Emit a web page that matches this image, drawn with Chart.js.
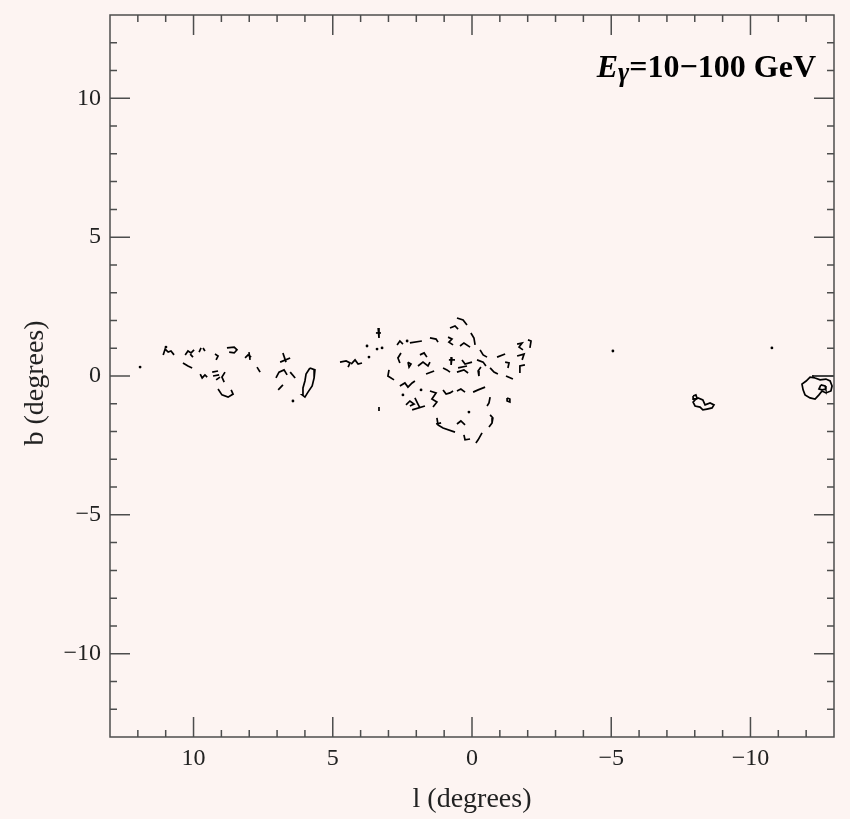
<!DOCTYPE html>
<html>
<head>
<meta charset="utf-8">
<script src="https://cdn.jsdelivr.net/npm/chart.js@4/dist/chart.umd.min.js"></script>
<style>
  html, body { margin: 0; padding: 0; background: #fdf4f2; }
  #wrap { width: 850px; height: 819px; }
</style>
</head>
<body>
<div id="wrap"><canvas id="map"></canvas></div>
<script>
// axis ranges and tick labels (degrees)
let lRange = [-13, 13];
let bRange = [-13, 13];
let lLabels = [10, 5, 0, -5, -10];
let bLabels = [10, 5, 0, -5, -10];

// contour fragments, each one a polyline of [l, b] pairs
let farLeftContours = [
  [[11.09,0.76],[11.02,0.97],[10.91,0.86],[10.81,0.90],[10.70,0.76]],
  [[10.30,0.76],[10.20,0.90],[10.09,0.83],[9.98,0.94]],
  [[10.12,0.79],[10.02,0.68]],
  [[9.80,0.86],[9.73,1.01]],
  [[9.66,1.01],[9.59,0.90]],
  [[9.23,0.79],[9.12,0.72],[9.19,0.58]],
  [[8.80,1.01],[8.54,1.04],[8.44,0.94],[8.54,0.83],[8.72,0.86]],
  [[8.15,0.65],[8.04,0.76],[7.93,0.68]],
  [[8.01,0.86],[7.97,0.58]],
  [[7.72,0.32],[7.61,0.14]],
  [[10.38,0.47],[10.20,0.36],[10.05,0.29]],
  [[9.76,0.07],[9.69,-0.07],[9.59,0.04],[9.51,-0.04]],
  [[9.33,0.14],[9.12,0.18]],
  [[9.30,0.00],[9.08,0.04]],
  [[9.19,-0.14],[9.05,-0.04]],
  [[8.87,0.14],[8.98,-0.04],[8.90,-0.22]],
  [[9.12,-0.47],[8.98,-0.68],[8.76,-0.76],[8.58,-0.65],[8.65,-0.50]]
];

let midLeftContours = [
  [[6.79,0.83],[6.68,0.50]],
  [[6.89,0.50],[6.53,0.65]],
  [[7.04,-0.07],[6.93,0.14],[6.75,0.22],[6.64,0.04]],
  [[6.53,0.14],[6.35,-0.07]],
  [[6.79,-0.32],[6.96,-0.50]],
  [[5.82,0.29],[5.64,0.22],[5.67,-0.07],[5.74,-0.36],[5.89,-0.58],[6.00,-0.76],[6.10,-0.68],[6.07,-0.43],[6.00,-0.18],[5.96,0.07],[5.82,0.29]]
];

let coreContours = [
  [[4.74,0.50],[4.52,0.54],[4.38,0.47],[4.45,0.32]],
  [[4.34,0.43],[4.20,0.58],[4.09,0.43],[3.95,0.47]],
  [[3.37,1.73],[3.34,1.37]],
  [[3.45,1.55],[3.27,1.55]],
  [[2.69,1.12],[2.59,1.26],[2.48,1.15]],
  [[2.23,1.19],[1.80,1.26]],
  [[1.51,1.37],[1.29,1.33],[1.22,1.22]],
  [[2.55,0.83],[2.66,0.65],[2.59,0.47]],
  [[2.30,0.50],[2.19,0.43],[2.26,0.32],[2.30,0.50]],
  [[1.87,0.76],[1.72,0.83],[1.62,0.68]],
  [[1.94,0.36],[1.76,0.50],[1.58,0.36],[1.51,0.50]],
  [[2.98,0.22],[3.02,0.00],[2.80,-0.14]],
  [[1.65,0.07],[1.36,0.18]],
  [[2.59,-0.36],[2.41,-0.25],[2.30,-0.40],[2.15,-0.25],[2.05,-0.18]],
  [[2.37,-1.04],[2.23,-0.90],[2.08,-1.01],[2.23,-1.08]],
  [[2.05,-0.79],[1.94,-1.01],[1.87,-1.15]],
  [[2.15,-1.22],[1.69,-1.08]],
  [[1.51,-0.54],[1.29,-0.61],[1.44,-0.83],[1.26,-0.94],[1.40,-1.12]],
  [[3.34,-1.12],[3.34,-1.26]],
  [[0.54,2.09],[0.32,2.02],[0.18,1.84]],
  [[0.79,1.73],[0.61,1.80],[0.50,1.69]],
  [[0.86,1.40],[0.72,1.33],[0.83,1.22],[0.68,1.12]],
  [[0.04,1.55],[-0.07,1.37],[-0.11,1.12]],
  [[0.43,1.08],[0.29,1.19],[0.07,1.04]],
  [[-2.01,1.30],[-2.12,1.26],[-2.08,1.01]],
  [[-1.62,1.15],[-1.80,1.19],[-1.69,1.04],[-1.83,0.94]],
  [[-1.62,0.72],[-1.87,0.79],[-1.80,0.58]],
  [[-1.69,0.14],[-1.72,0.36],[-1.90,0.40]],
  [[0.72,0.68],[0.75,0.40]],
  [[0.83,0.58],[0.61,0.58]],
  [[0.36,0.58],[0.25,0.43],[0.00,0.50]],
  [[-0.29,0.94],[-0.40,0.76],[-0.54,0.68]],
  [[-0.18,0.58],[-0.40,0.50],[-0.50,0.36]],
  [[-0.90,0.68],[-1.19,0.79]],
  [[-1.19,0.50],[-1.33,0.47],[-1.29,0.29]],
  [[1.04,0.29],[0.90,0.22],[0.79,0.14]],
  [[0.50,0.29],[0.18,0.36]],
  [[0.54,0.14],[0.29,0.22],[0.14,0.11]],
  [[-0.32,0.32],[-0.22,0.18],[-0.25,0.00]],
  [[-0.65,0.29],[-0.79,0.14],[-0.93,0.07]],
  [[-1.22,0.00],[-1.47,-0.11]],
  [[1.04,-0.50],[0.93,-0.65],[0.79,-0.61],[0.68,-0.54]],
  [[0.54,-0.54],[0.40,-0.47],[0.25,-0.58]],
  [[-0.04,-0.58],[-0.22,-0.50],[-0.47,-0.40]],
  [[-0.65,-0.76],[-0.61,-0.97],[-0.54,-1.08]],
  [[-1.26,-0.79],[-1.36,-0.83],[-1.36,-0.94],[-1.26,-0.90],[-1.26,-0.79]],
  [[-0.65,-1.40],[-0.75,-1.51],[-0.72,-1.69],[-0.61,-1.84]],
  [[1.26,-1.51],[1.22,-1.76],[1.04,-1.87],[0.61,-2.02]],
  [[1.29,-1.73],[1.11,-1.69]],
  [[0.54,-1.73],[0.40,-1.62],[0.25,-1.76]],
  [[0.29,-2.12],[0.25,-2.30],[0.07,-2.27]],
  [[-0.36,-2.05],[-0.22,-2.30],[-0.14,-2.41]]
];

let eastContours = [
  [[-8.01,-0.86],[-8.12,-0.79],[-8.29,-0.86],[-8.37,-1.04],[-8.55,-0.97],[-8.69,-1.04],[-8.62,-1.15],[-8.44,-1.19],[-8.29,-1.22],[-8.19,-1.12],[-8.01,-1.08],[-7.94,-0.94],[-8.01,-0.86]],
  [[-7.94,-0.72],[-8.04,-0.68],[-8.08,-0.79],[-7.97,-0.83],[-7.94,-0.72]],
  [[-12.32,-0.07],[-12.50,-0.14],[-12.71,-0.11],[-12.86,-0.18],[-12.93,-0.36],[-12.89,-0.54],[-12.71,-0.61],[-12.57,-0.54],[-12.46,-0.68],[-12.32,-0.83],[-12.14,-0.79],[-11.96,-0.68],[-11.89,-0.50],[-11.85,-0.29],[-12.00,-0.18],[-12.14,-0.04],[-12.32,-0.07]],
  [[-12.53,-0.32],[-12.68,-0.36],[-12.71,-0.47],[-12.57,-0.50],[-12.46,-0.47],[-12.53,-0.32]],
  [[-12.21,0.00],[-13.00,0.00]]
];

// single-pixel contours
let isolatedPoints = [
  [11.92,0.32],[10.99,1.04],[6.43,-0.90],[3.77,1.08],[3.70,0.68],[3.41,0.97],
  [3.23,1.01],[2.33,1.26],[2.48,-0.68],[1.83,-0.50],[0.11,-1.30],[-5.06,0.90],[-10.77,1.01]
];

let serif = "'Liberation Serif', 'DejaVu Serif', serif";

function fmt(v) {
  return v < 0 ? '\u2212' + Math.abs(v) : String(v);
}

// build one line dataset per polyline
let datasets = [];
[farLeftContours, midLeftContours, coreContours, eastContours].forEach(function (group) {
  group.forEach(function (poly) {
    datasets.push({
      data: poly.map(function (p) { return { x: p[0], y: p[1] }; }),
      showLine: true,
      borderColor: '#000',
      borderWidth: 1.7,
      pointRadius: 0,
      tension: 0
    });
  });
});
datasets.push({
  data: isolatedPoints.map(function (p) { return { x: p[0], y: p[1] }; }),
  showLine: false,
  pointRadius: 1.4,
  pointBorderWidth: 0,
  pointBackgroundColor: '#000'
});

// Frame, ticks, labels, annotation
let frameAxes = {
  id: 'frameAxes',
  afterDraw(chart) {
    let ctx = chart.ctx;
    let a = chart.chartArea;
    let x = chart.scales.x;
    let y = chart.scales.y;
    ctx.save();
    ctx.strokeStyle = '#4d4d4d';
    ctx.lineWidth = 1.5;
    ctx.strokeRect(a.left, a.top, a.right - a.left, a.bottom - a.top);

    ctx.beginPath();
    for (let v = lRange[0] + 1; v < lRange[1]; v++) {
      let px = x.getPixelForValue(v);
      let len = v % 5 === 0 ? 20 : 7;
      ctx.moveTo(px, a.bottom); ctx.lineTo(px, a.bottom - len);
      ctx.moveTo(px, a.top); ctx.lineTo(px, a.top + len);
    }
    for (let v = bRange[0] + 1; v < bRange[1]; v++) {
      let py = y.getPixelForValue(v);
      let len = v % 5 === 0 ? 20 : 7;
      ctx.moveTo(a.left, py); ctx.lineTo(a.left + len, py);
      ctx.moveTo(a.right, py); ctx.lineTo(a.right - len, py);
    }
    ctx.stroke();

    ctx.fillStyle = '#222';
    ctx.font = '24px ' + serif;
    ctx.textAlign = 'center';
    ctx.textBaseline = 'middle';
    lLabels.forEach(function (v) {
      ctx.fillText(fmt(v), x.getPixelForValue(v), a.bottom + 22);
    });
    ctx.textAlign = 'right';
    bLabels.forEach(function (v) {
      ctx.fillText(fmt(v), a.left - 9, y.getPixelForValue(v));
    });

    // axis titles
    ctx.font = '28px ' + serif;
    ctx.textAlign = 'center';
    ctx.fillText('l (degrees)', (a.left + a.right) / 2, 800);
    ctx.save();
    ctx.translate(36, 383);
    ctx.rotate(-Math.PI / 2);
    ctx.fillText('b (degrees)', 0, 0);
    ctx.restore();

    // energy band label
    ctx.fillStyle = '#000';
    ctx.textBaseline = 'alphabetic';
    ctx.textAlign = 'left';
    let parts = [
      { t: 'E', f: 'italic bold 32px ' + serif, dy: 0 },
      { t: '\u03b3', f: 'italic bold 27px ' + serif, dy: 4 },
      { t: '=10\u2212100 GeV', f: 'bold 32px ' + serif, dy: 0 }
    ];
    let total = 0;
    parts.forEach(function (p) { ctx.font = p.f; p.w = ctx.measureText(p.t).width; total += p.w; });
    let cx = 816 - total;
    parts.forEach(function (p) {
      ctx.font = p.f;
      ctx.fillText(p.t, cx, 77 + p.dy);
      cx += p.w;
    });
    ctx.restore();
  }
};

new Chart(document.getElementById('map'), {
  type: 'scatter',
  data: { datasets: datasets },
  options: {
    responsive: true,
    maintainAspectRatio: false,
    animation: false,
    layout: { padding: { left: 110, right: 16, top: 15, bottom: 82 } },
    plugins: { legend: { display: false }, tooltip: { enabled: false } },
    scales: {
      x: { type: 'linear', min: lRange[0], max: lRange[1], reverse: true, display: false },
      y: { type: 'linear', min: bRange[0], max: bRange[1], display: false }
    }
  },
  plugins: [frameAxes]
});
</script>
</body>
</html>
